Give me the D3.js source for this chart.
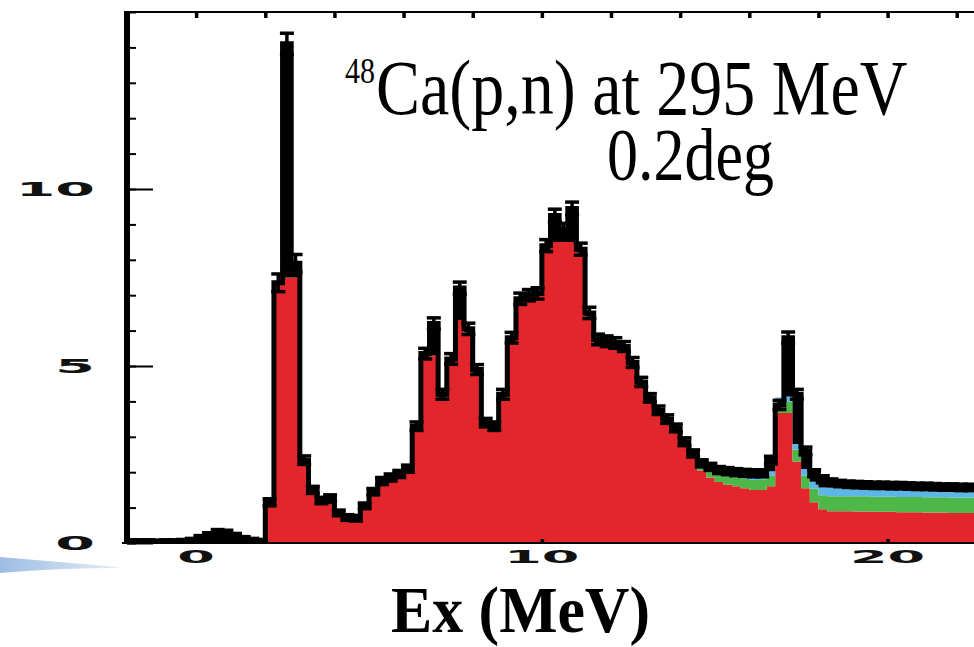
<!DOCTYPE html>
<html>
<head>
<meta charset="utf-8">
<script src="https://cdn.jsdelivr.net/npm/d3@7"></script>
<style>
  body { margin: 0; background: #fff; }
  svg { display: block; }
</style>
</head>
<body>
<svg id="chart" width="974" height="647"></svg>
<script>
// histogram bins, 0.25 MeV wide, first bin starts at -2 MeV
const binStart = -2;
const binWidth = 0.25;

// measured spectrum (black, with error bars)
const counts = [
  0.05, 0.05, 0.05, 0.04, 0.05, 0.05, 0.06, 0.08,
  0.15, 0.22, 0.30, 0.28, 0.20, 0.12, 0.08, 0.06,
  1.15, 7.35, 14.1, 7.90,
  2.34, 1.50, 1.20, 1.27,
  0.85, 0.72, 0.70, 1.05,
  1.45, 1.75, 1.85, 1.95,
  2.10, 3.30, 5.35, 6.20,
  4.20, 5.20, 7.20, 6.05,
  4.90, 3.40, 3.30, 4.20,
  5.80, 6.90, 7.00, 7.05,
  8.40, 9.25, 8.85, 9.45,
  8.30, 6.50, 5.75, 5.70,
  5.65, 5.55, 5.10, 4.55,
  4.10, 3.75, 3.50, 3.25,
  2.86, 2.53, 2.25, 2.15,
  2.06, 2.03, 2.00, 1.98,
  1.97, 1.97, 2.34, 3.90,
  5.80, 4.20, 2.60, 1.97,
  1.80, 1.72, 1.68, 1.66, 1.65, 1.64, 1.63, 1.63, 1.62,
  1.62, 1.61, 1.60, 1.60, 1.59, 1.58, 1.58, 1.57, 1.57
];

const errors = [
  0.04, 0.04, 0.04, 0.04, 0.04, 0.04, 0.04, 0.05,
  0.06, 0.07, 0.08, 0.08, 0.07, 0.06, 0.05, 0.04,
  0.10, 0.25, 0.30, 0.25,
  0.12, 0.10, 0.09, 0.09,
  0.08, 0.08, 0.08, 0.08,
  0.09, 0.10, 0.10, 0.10,
  0.10, 0.12, 0.15, 0.16,
  0.14, 0.15, 0.17, 0.16,
  0.14, 0.12, 0.12, 0.14,
  0.15, 0.16, 0.16, 0.16,
  0.17, 0.18, 0.18, 0.18,
  0.17, 0.16, 0.15, 0.15,
  0.15, 0.14, 0.14, 0.13,
  0.12, 0.12, 0.12, 0.11,
  0.11, 0.10, 0.10, 0.10,
  0.10, 0.10, 0.10, 0.10,
  0.10, 0.10, 0.11, 0.13,
  0.16, 0.14, 0.11, 0.10,
  0.10, 0.09, 0.09, 0.09, 0.09, 0.09, 0.09, 0.09, 0.09,
  0.09, 0.09, 0.09, 0.09, 0.09, 0.09, 0.09, 0.09, 0.09
];

// decomposed components, stacked: red, then green, then cyan
const redPart = [
  0, 0, 0, 0, 0, 0, 0, 0, 0, 0, 0, 0, 0, 0, 0, 0,
  1.10, 7.40, 7.50, 7.50,
  2.30, 1.45, 1.15, 1.10,
  0.80, 0.70, 0.68, 1.00,
  1.40, 1.70, 1.80, 1.90,
  2.05, 3.20, 5.20, 5.30,
  4.10, 5.00, 6.30, 5.95,
  4.80, 3.30, 3.20, 4.10,
  5.70, 6.80, 6.95, 7.00,
  8.20, 8.50, 8.50, 8.50,
  8.20, 6.40, 5.65, 5.60,
  5.55, 5.45, 5.00, 4.45,
  4.00, 3.65, 3.40, 3.15,
  2.76, 2.40, 2.05, 1.85,
  1.72, 1.65, 1.60, 1.55,
  1.50, 1.50, 1.60, 3.67,
  3.67, 2.30, 1.55, 1.15,
  0.95, 0.90, 0.90, 0.90, 0.89, 0.89, 0.88, 0.88, 0.88,
  0.87, 0.87, 0.87, 0.86, 0.86, 0.86, 0.85, 0.85, 0.85
];

const greenPart = [
  0, 0, 0, 0, 0, 0, 0, 0, 0, 0, 0, 0, 0, 0, 0, 0,
  0, 0, 0, 0, 0, 0, 0, 0, 0, 0, 0, 0, 0, 0, 0, 0,
  0, 0, 0, 0, 0, 0, 0, 0, 0, 0, 0, 0, 0, 0, 0, 0,
  0, 0, 0, 0, 0, 0, 0, 0, 0, 0, 0, 0, 0, 0, 0, 0,
  0, 0.08, 0.15, 0.20,
  0.22, 0.25, 0.25, 0.27,
  0.28, 0.30, 0.30, 0.30,
  0.32, 0.34, 0.36, 0.38,
  0.40, 0.42, 0.42, 0.42, 0.43, 0.43, 0.43, 0.43, 0.43,
  0.43, 0.43, 0.43, 0.43, 0.43, 0.43, 0.43, 0.43, 0.43
];

const cyanPart = [
  0, 0, 0, 0, 0, 0, 0, 0, 0, 0, 0, 0, 0, 0, 0, 0,
  0, 0, 0, 0, 0, 0, 0, 0, 0, 0, 0, 0, 0, 0, 0, 0,
  0, 0, 0, 0, 0, 0, 0, 0, 0, 0, 0, 0, 0, 0, 0, 0,
  0, 0, 0, 0, 0, 0, 0, 0, 0, 0, 0, 0, 0, 0, 0, 0,
  0, 0, 0, 0.03,
  0.05, 0.07, 0.08, 0.10,
  0.12, 0.12, 0.13, 0.14,
  0.15, 0.16, 0.18, 0.20,
  0.22, 0.24, 0.25, 0.25, 0.26, 0.26, 0.26, 0.26, 0.26,
  0.26, 0.26, 0.26, 0.26, 0.26, 0.26, 0.26, 0.26, 0.26
];

const xTickLabels = [0, 10, 20];
const yTickLabels = [0, 5, 10];
const titleMain = "Ca(p,n) at 295 MeV";
const titleSup = "48";
const subtitle = "0.2deg";
const xTitle = "Ex (MeV)";

const svg = d3.select("#chart");
const plotLeft = 127, plotTop = 12, plotBottom = 543, plotRight = 974;

const x = d3.scaleLinear().domain([-2, 22.5]).range([plotLeft, plotRight]);
const y = d3.scaleLinear().domain([0, 15]).range([plotBottom, plotTop]);

// build bins with stacked tops
const bins = counts.map((v, i) => {
  const r = redPart[i], g = greenPart[i], c = cyanPart[i];
  return {
    lo: binStart + i * binWidth,
    hi: binStart + (i + 1) * binWidth,
    v, err: errors[i],
    r, g: r + g, c: r + g + c
  };
});
// extra point so the step closes the last bin
const last = bins[bins.length - 1];
const stepPts = bins.concat([{ ...last, lo: last.hi }]);

const defs = svg.append("defs");
defs.append("clipPath").attr("id", "plotClip")
  .append("rect").attr("x", plotLeft).attr("y", plotTop)
  .attr("width", plotRight - plotLeft).attr("height", plotBottom - plotTop);

// blue swoosh of the slide in the bottom-left corner
const grad = defs.append("linearGradient").attr("id", "swoosh");
grad.append("stop").attr("offset", "0%").attr("stop-color", "#9dbde3");
grad.append("stop").attr("offset", "100%").attr("stop-color", "#e3edf8");
svg.append("path")
  .attr("d", "M0,557 Q60,562 118,567 L118,568 Q60,568 0,573 Z")
  .attr("fill", "url(#swoosh)");

const plot = svg.append("g").attr("clip-path", "url(#plotClip)");

const area = (lowKey, highKey) => d3.area()
  .curve(d3.curveStepAfter)
  .x(d => x(d.lo))
  .y0(d => y(lowKey ? d[lowKey] : 0))
  .y1(d => y(d[highKey]));

plot.append("path").datum(stepPts).attr("d", area(null, "r")).attr("fill", "#e3262b");
plot.append("path").datum(stepPts).attr("d", area("r", "g")).attr("fill", "#4db848");
plot.append("path").datum(stepPts).attr("d", area("g", "c")).attr("fill", "#5cb6e6");

// data above the stacked fit is filled black
plot.append("path").datum(stepPts)
  .attr("d", d3.area().curve(d3.curveStepAfter)
    .x(d => x(d.lo))
    .y0(d => y(d.c))
    .y1(d => y(Math.max(d.v, d.c))))
  .attr("fill", "#000");

plot.append("path").datum(stepPts)
  .attr("d", d3.line().curve(d3.curveStepAfter).x(d => x(d.lo)).y(d => y(d.v)))
  .attr("fill", "none").attr("stroke", "#000").attr("stroke-width", 5)
  .attr("stroke-linejoin", "miter");

// error bars
const eb = plot.append("g").attr("stroke", "#000");
bins.forEach(d => {
  const cx = x((d.lo + d.hi) / 2);
  eb.append("line").attr("x1", cx).attr("x2", cx)
    .attr("y1", y(d.v - d.err)).attr("y2", y(d.v + d.err)).attr("stroke-width", 3.5);
  [d.v - d.err, d.v + d.err].forEach(e => {
    eb.append("line").attr("x1", cx - 7).attr("x2", cx + 7)
      .attr("y1", y(e)).attr("y2", y(e)).attr("stroke-width", 3.5);
  });
});

// ticks (pointing into the plot)
const yMinor = svg.append("g").attr("transform", `translate(${plotLeft},0)`)
  .call(d3.axisRight(y).tickValues(d3.range(0, 16)).tickSize(9).tickFormat(""));
const yMajor = svg.append("g").attr("transform", `translate(${plotLeft},0)`)
  .call(d3.axisRight(y).tickValues(yTickLabels).tickSize(26).tickFormat(""));
const xTop = svg.append("g").attr("transform", `translate(0,${plotTop})`)
  .call(d3.axisBottom(x).tickValues(d3.range(0, 23, 2)).tickSize(6).tickFormat(""));
const xBottom = svg.append("g").attr("transform", `translate(0,${plotBottom})`)
  .call(d3.axisTop(x).tickValues(xTickLabels).tickSize(4).tickFormat(""));
[yMinor, yMajor].forEach(g => {
  g.select(".domain").remove();
  g.selectAll(".tick line").attr("stroke", "#000").attr("stroke-width", 2);
});
[xTop, xBottom].forEach(g => {
  g.select(".domain").remove();
  g.selectAll(".tick line").attr("stroke", "#000").attr("stroke-width", 3.5);
});

// frame
svg.append("line").attr("x1", plotLeft).attr("x2", plotRight).attr("y1", plotTop).attr("y2", plotTop)
  .attr("stroke", "#000").attr("stroke-width", 2);
svg.append("line").attr("x1", 122).attr("x2", plotRight).attr("y1", plotBottom).attr("y2", plotBottom)
  .attr("stroke", "#000").attr("stroke-width", 2);
svg.append("line").attr("x1", plotLeft).attr("x2", plotLeft).attr("y1", plotTop - 1).attr("y2", plotBottom + 1)
  .attr("stroke", "#000").attr("stroke-width", 6);

// tick labels: wide bold sans
const tickFont = "DejaVu Sans, Verdana, sans-serif";
yTickLabels.forEach(v => {
  svg.append("text")
    .attr("transform", `translate(95,${y(v) + 7}) scale(3.0,1.05)`)
    .attr("text-anchor", "end")
    .attr("font-family", tickFont).attr("font-weight", "bold").attr("font-size", 19)
    .attr("fill", "#111")
    .text(v);
});
xTickLabels.forEach(v => {
  svg.append("text")
    .attr("transform", `translate(${x(v)},563) scale(3.0,1)`)
    .attr("text-anchor", "middle")
    .attr("font-family", tickFont).attr("font-weight", "bold").attr("font-size", 18)
    .attr("fill", "#111")
    .text(v);
});

// titles
const serif = "Liberation Serif, Times New Roman, serif";
svg.append("text")
  .attr("transform", "translate(345,83) scale(1,1.2)")
  .attr("font-family", serif).attr("font-size", 30).text(titleSup);
svg.append("text")
  .attr("transform", "translate(376,114) scale(1,1.2)")
  .attr("font-family", serif).attr("font-size", 66).text(titleMain);
svg.append("text")
  .attr("transform", "translate(607,180) scale(1,1.2)")
  .attr("font-family", serif).attr("font-size", 62).text(subtitle);
svg.append("text")
  .attr("transform", "translate(391,632) scale(1.03,1.1)")
  .attr("font-family", serif).attr("font-weight", "bold").attr("font-size", 60)
  .text(xTitle);
</script>
</body>
</html>
